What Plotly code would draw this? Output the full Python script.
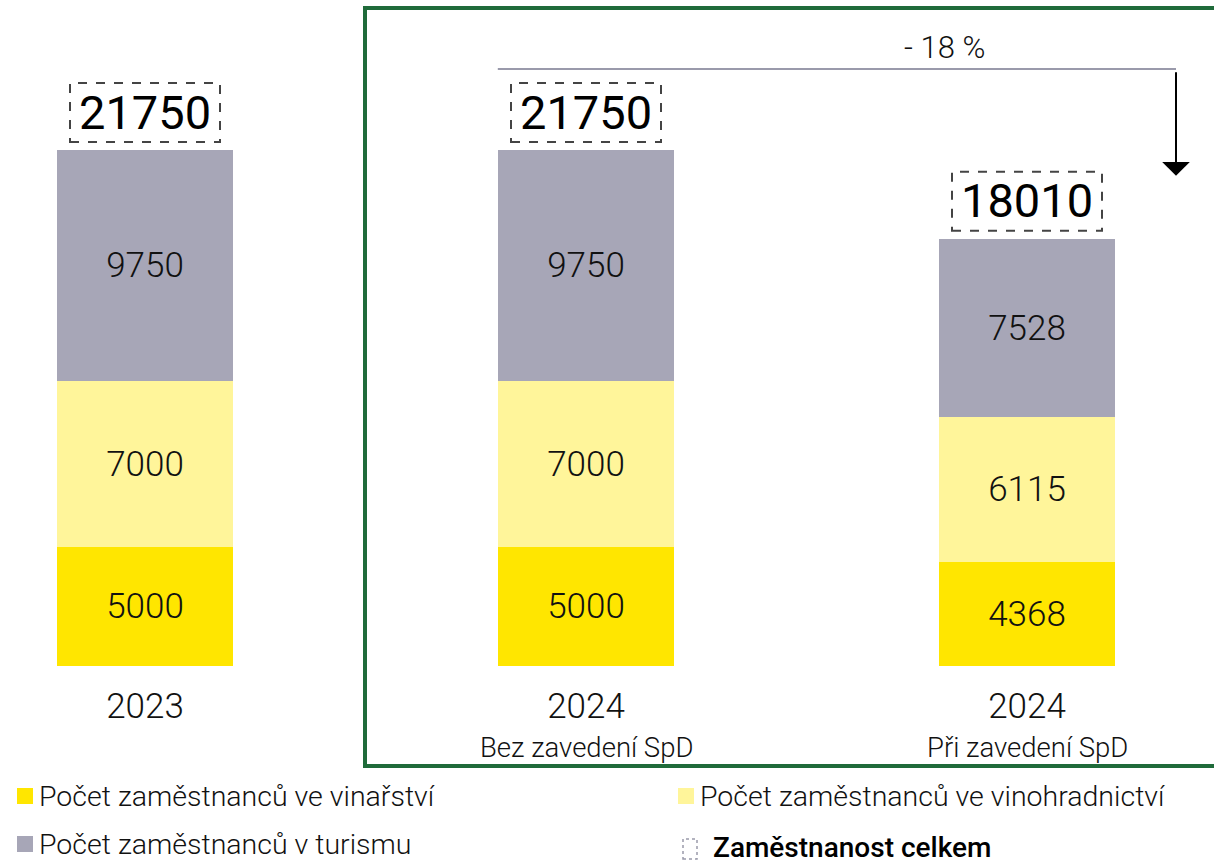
import plotly.graph_objects as go

# ---- data ----
categories = ["2023", "2024", "2024"]
subtitles = ["", "Bez zavedení SpD", "Při zavedení SpD"]
vinarstvi = [5000, 5000, 4368]
vinohradnictvi = [7000, 7000, 6115]
turismus = [9750, 9750, 7528]
totals = [21750, 21750, 18010]
change_label = "- 18 %"
series_names = ["Počet zaměstnanců ve vinařství",
                "Počet zaměstnanců ve vinohradnictví",
                "Počet zaměstnanců v turismu"]
total_name = "Zaměstnanost celkem"

# ---- style ----
C_VINARSTVI = "#FFE600"
C_VINOHRAD = "#FFF59A"
C_TURISMUS = "#A7A6B7"
C_GREEN = "#1F6B3A"
FONT = "Roboto"
LIGHT = 300

W, H = 1214, 864
PLOT_BOTTOM = 666          # pixel y of the baseline
PX_PER_UNIT = 516 / 21750  # vertical scale
Y_MAX = PLOT_BOTTOM / PX_PER_UNIT
X0_PX, STEP_PX = 145, 441
x_range = [(0 - X0_PX) / STEP_PX, (W - X0_PX) / STEP_PX]
xs = list(range(len(categories)))

def py(px):  # paper y from pixel y
    return (PLOT_BOTTOM - px) / PLOT_BOTTOM

def px_(p):  # paper x from pixel x
    return p / W

fig = go.Figure()
for vals, col, name in [(vinarstvi, C_VINARSTVI, series_names[0]),
                        (vinohradnictvi, C_VINOHRAD, series_names[1]),
                        (turismus, C_TURISMUS, series_names[2])]:
    fig.add_trace(go.Bar(
        x=xs, y=vals, name=name, marker=dict(color=col, line=dict(width=0)),
        width=0.4, text=vals, texttemplate="%{y}", textposition="inside",
        insidetextanchor="middle", textangle=0,
        textfont=dict(family=FONT, size=35, color="#111111", weight=LIGHT),
        showlegend=False, hoverinfo="skip"))

shapes = []
annotations = []

# total boxes + labels
for i, t in enumerate(totals):
    shapes.append(dict(type="rect", xref="x", yref="y",
                       xsizemode="pixel", ysizemode="pixel",
                       xanchor=i, yanchor=t, x0=-75, x1=75, y0=8, y1=67,
                       line=dict(color="#444444", width=2, dash="dash")))
    annotations.append(dict(x=i, y=t, xref="x", yref="y", text=str(t),
                            showarrow=False, yanchor="middle", yshift=38,
                            font=dict(family=FONT, size=47, color="#000000")))

# subtitles under the categories
for i, s in enumerate(subtitles):
    if s:
        annotations.append(dict(x=i, xref="x", y=0, yref="paper", text=s,
                                showarrow=False, yanchor="top", yshift=-63,
                                font=dict(family=FONT, size=27.5, color="#111111", weight=LIGHT)))

# green frame
shapes.append(dict(type="rect", xref="paper", yref="paper",
                   x0=px_(365), x1=px_(1230), y0=py(766), y1=py(8),
                   line=dict(color=C_GREEN, width=4)))

# change line + arrow
line_off = 81  # pixels above the first total
x_left = 1 - 0.2
x_right = (1176 - X0_PX) / STEP_PX
shapes.append(dict(type="line", xref="x", yref="y", ysizemode="pixel",
                   yanchor=totals[1], x0=x_left, x1=x_right, y0=line_off, y1=line_off,
                   line=dict(color="#9a9aab", width=2)))
tip_y = totals[2] + 63 / PX_PER_UNIT
annotations.append(dict(x=x_right, y=tip_y, xref="x", yref="y", text="",
                        showarrow=True, ax=0, ay=-105, axref="pixel", ayref="pixel",
                        arrowhead=1, arrowsize=2.3, arrowwidth=2, arrowcolor="#000000"))
annotations.append(dict(x=(944 - X0_PX) / STEP_PX, y=totals[1], xref="x", yref="y",
                        text=change_label, showarrow=False, yanchor="bottom",
                        yshift=line_off + 1,
                        font=dict(family=FONT, size=31, color="#111111", weight=LIGHT)))

# manual legend
legend_items = [
    (series_names[0], C_VINARSTVI, 17, 796, False),
    (series_names[1], C_VINOHRAD, 678, 796, False),
    (series_names[2], C_TURISMUS, 17, 844, False),
    (total_name, None, 683, 847, True),
]
for name, col, lx, ly, dashed in legend_items:
    if dashed:
        shapes.append(dict(type="rect", xref="paper", yref="paper",
                           x0=px_(lx), x1=px_(lx + 14), y0=py(ly + 12), y1=py(ly - 8),
                           line=dict(color="#9a9aab", width=1.5, dash="dot")))
        annotations.append(dict(x=px_(lx + 28), y=py(ly), xref="paper", yref="paper",
                                text=name, showarrow=False, xanchor="left", yanchor="middle",
                                font=dict(family=FONT, size=28, color="#000000", weight=500)))
    else:
        shapes.append(dict(type="rect", xref="paper", yref="paper",
                           x0=px_(lx), x1=px_(lx + 16), y0=py(ly + 8), y1=py(ly - 8),
                           fillcolor=col, line=dict(width=0)))
        annotations.append(dict(x=px_(lx + 20), y=py(ly), xref="paper", yref="paper",
                                text=name, showarrow=False, xanchor="left", yanchor="middle",
                                font=dict(family=FONT, size=28.5, color="#111111", weight=LIGHT)))

fig.update_layout(
    width=W, height=H, barmode="stack",
    margin=dict(l=0, r=0, t=0, b=H - PLOT_BOTTOM, pad=0),
    paper_bgcolor="white", plot_bgcolor="white",
    font=dict(family=FONT),
    xaxis=dict(range=x_range, tickmode="array", tickvals=xs, ticktext=categories,
               tickfont=dict(family=FONT, size=35, color="#111111", weight=LIGHT),
               showgrid=False, zeroline=False, showline=False, ticks="",
               ticklabelstandoff=16),
    yaxis=dict(range=[0, Y_MAX], visible=False, showgrid=False, zeroline=False),
    shapes=shapes, annotations=annotations,
    showlegend=False,
)

fig.write_html("out.html", config={"displayModeBar": False},
               post_script="document.body.style.margin='0';document.body.style.overflow='hidden';")
